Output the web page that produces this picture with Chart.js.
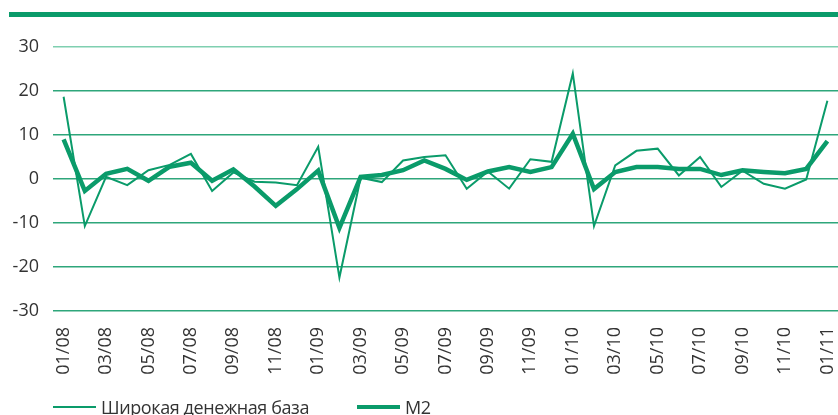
<!DOCTYPE html>
<html>
<head>
<meta charset="utf-8">
<script src="https://cdn.jsdelivr.net/npm/chart.js@4"></script>
<style>
  body { margin: 0; background: #fff; }
  #wrap { position: relative; width: 838px; height: 415px; overflow: hidden; }
  #topbar { position: absolute; left: 9px; right: 0; top: 12px; height: 5px; background: #0a9b6a; }
  #chart { position: absolute; left: 0; top: 0; }
  #legend { position: absolute; left: 53px; top: 395px; font-family: "Open Sans", sans-serif; font-size: 18px; letter-spacing: -0.4px; color: #333; display: flex; align-items: center; }
  .item { display: flex; align-items: center; }
  .swatch { width: 43px; background: #0a9b6a; margin-right: 5px; }
</style>
</head>
<body>
<div id="wrap">
  <div id="topbar"></div>
  <canvas id="chart" width="838" height="415"></canvas>
  <div id="legend"></div>
</div>
<script>
// месяцы 01/08 .. 01/11
const months = ['01/08','02/08','03/08','04/08','05/08','06/08','07/08','08/08','09/08','10/08','11/08','12/08',
  '01/09','02/09','03/09','04/09','05/09','06/09','07/09','08/09','09/09','10/09','11/09','12/09',
  '01/10','02/10','03/10','04/10','05/10','06/10','07/10','08/10','09/10','10/10','11/10','12/10','01/11'];

const baseMoney = [18.7, -10.7, 0.5, -1.4, 2.0, 3.2, 5.7, -2.7, 1.5, -0.6, -0.8, -1.4,
  7.3, -22.4, 0.3, -0.7, 4.2, 5.0, 5.4, -2.2, 1.7, -2.2, 4.5, 3.9,
  24.0, -10.7, 3.1, 6.4, 6.9, 0.8, 5.0, -1.8, 1.9, -1.1, -2.2, -0.1, 17.8];

const m2 = [9.0, -2.7, 1.2, 2.3, -0.4, 2.8, 3.7, -0.4, 2.2, -1.7, -6.1, -2.3,
  1.9, -11.1, 0.5, 0.9, 2.0, 4.2, 2.3, -0.2, 1.7, 2.7, 1.6, 2.7,
  10.3, -2.3, 1.6, 2.7, 2.7, 2.3, 2.3, 0.9, 2.0, 1.6, 1.3, 2.3, 8.6];

const yTicks = [-30, -20, -10, 0, 10, 20, 30];
const seriesNames = ['Широкая денежная база', 'M2'];

const green = '#0a9b6a';

new Chart(document.getElementById('chart').getContext('2d'), {
  type: 'line',
  data: {
    labels: months,
    datasets: [
      { label: seriesNames[0], data: baseMoney, borderColor: green, borderWidth: 2, pointRadius: 0, tension: 0, order: 2 },
      { label: seriesNames[1], data: m2, borderColor: green, borderWidth: 4.5, pointRadius: 0, tension: 0, order: 1 }
    ]
  },
  options: {
    responsive: false,
    animation: false,
    layout: { padding: { left: 13, top: 47, right: 0, bottom: 34 } },
    plugins: { legend: { display: false }, tooltip: { enabled: false } },
    scales: {
      x: {
        offset: true,
        grid: { display: false, drawTicks: false },
        border: { display: false },
        afterFit: axis => { axis.height = 70; axis.paddingLeft = 0; axis.paddingRight = 0; },
        ticks: {
          autoSkip: false, minRotation: 90, maxRotation: 90, padding: 16,
          color: '#333', font: { family: 'Open Sans', size: 18 },
          callback: (v, i) => i % 2 === 0 ? months[i] : ''
        }
      },
      y: {
        min: yTicks[0], max: yTicks[yTicks.length - 1],
        afterBuildTicks: axis => { axis.ticks = yTicks.map(v => ({ value: v })); },
        afterFit: axis => { axis.width = 40; },
        border: { display: false },
        grid: {
          drawTicks: false, lineWidth: 1.5,
          color: ctx => ctx.tick && ctx.tick.value === 30 ? '#7fcfb0' : '#2ea67b'
        },
        ticks: { padding: 14, color: '#333', font: { family: 'Open Sans', size: 18 } }
      }
    }
  }
});

// легенда
const legend = document.getElementById('legend');
const widths = [2, 4.5];
seriesNames.forEach((name, i) => {
  const item = document.createElement('div');
  item.className = 'item';
  item.style.marginRight = i === 0 ? '48px' : '0';
  item.innerHTML = '<div class="swatch" style="height:' + widths[i] + 'px"></div><span>' + name + '</span>';
  legend.appendChild(item);
});
</script>
</body>
</html>
